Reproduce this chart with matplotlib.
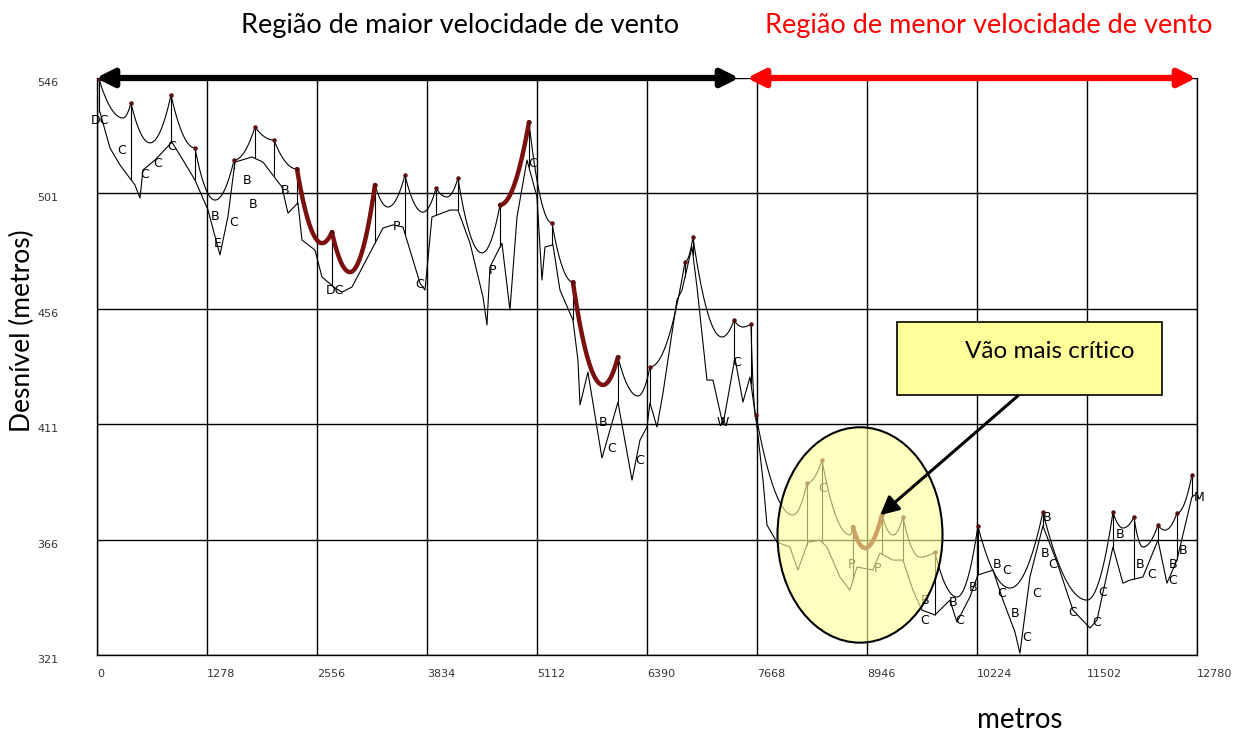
"""Perfil da linha: condutor (catenárias entre torres) e terreno."""
import matplotlib
matplotlib.use("Agg")
import matplotlib.pyplot as plt
import numpy as np
from matplotlib.patches import Ellipse, FancyArrowPatch, Rectangle

# Torres do condutor (distância em m, cota em m)
tower_x = [23, 395, 860, 1139, 1592, 1836, 2056, 2324, 2730, 3230, 3578, 3939,
           4194, 4682, 5019, 5286, 5530, 6053, 6425, 6831, 6924, 7401, 7598,
           7656, 8249, 8423, 8783, 9120, 9364, 9736, 10235, 10990, 11804,
           12048, 12327, 12547, 12721]
tower_y = [545.6, 536.3, 539.4, 518.7, 514.0, 526.9, 521.8, 510.5, 485.9, 504.3,
           508.2, 503.1, 507.0, 496.5, 528.8, 489.5, 466.4, 437.2, 433.3, 474.2,
           484.0, 451.6, 450.1, 414.6, 388.0, 397.0, 370.9, 375.6, 374.8, 361.1,
           371.3, 376.7, 376.7, 374.8, 371.7, 376.3, 391.2]
# ponto mais baixo de cada vão
low_x = [302, 616, 1139, 1371, 1592, 2056, 2324, 2614, 2939, 3381, 3787, 4066,
         4473, 4682, 5286, 5530, 5879, 6285, 6425, 6831, 7261, 7505, 7656, 8086,
         8249, 8748, 8923, 9248, 9562, 9991, 10607, 11502, 11920, 12152, 12408,
         12547]
low_y = [530.4, 520.7, 518.7, 498.4, 514.0, 521.8, 510.5, 481.6, 470.3, 495.7,
         493.7, 499.6, 477.8, 496.5, 489.5, 466.4, 426.3, 422.0, 433.3, 474.2,
         445.0, 448.9, 414.6, 375.6, 388.0, 367.8, 362.7, 367.8, 359.2, 343.6,
         347.1, 342.4, 370.5, 363.1, 369.7, 376.3]
red_spans = [7, 8, 13, 16, 26]

# Terreno / linha inferior
ground_x = [35, 151, 267, 441, 500, 534, 674, 871, 999, 1139, 1290, 1429, 1522,
            1603, 1801, 1929, 2149, 2219, 2335, 2382, 2533, 2614, 2765, 2846,
            2963, 3172, 3323, 3439, 3555, 3753, 3811, 3892, 4101, 4194, 4334,
            4485, 4531, 4566, 4705, 4798, 4880, 4996, 5112, 5170, 5205, 5298,
            5379, 5530, 5588, 5612, 5704, 5867, 6053, 6216, 6309, 6390, 6425,
            6506, 6576, 6738, 6797, 6913, 6971, 7087, 7157, 7273, 7412, 7505,
            7587, 7668, 7738, 7784, 7900, 8051, 8144, 8260, 8400, 8481, 8632,
            8748, 8830, 9016, 9097, 9248, 9364, 9480, 9585, 9736, 9910, 9991,
            10142, 10235, 10410, 10526, 10665, 10723, 10839, 10990, 11153,
            11339, 11537, 11618, 11804, 11920, 12001, 12152, 12327, 12431,
            12547, 12721, 12756]
ground_y = [532.7, 518.7, 512.1, 504.3, 499.2, 510.1, 514.0, 521.0, 514.0, 506.2,
            494.5, 477.0, 492.0, 513.2, 515.2, 513.2, 503.5, 493.3, 497.3, 482.8,
            478.9, 468.4, 464.1, 462.5, 464.5, 477.8, 487.5, 488.7, 487.9, 466.0,
            463.3, 491.8, 494.5, 494.5, 481.6, 460.6, 449.7, 472.3, 481.6, 455.5,
            491.8, 514.0, 499.6, 467.2, 480.1, 480.9, 463.3, 451.6, 436.0, 418.5,
            431.3, 397.8, 419.6, 389.2, 404.8, 409.9, 419.3, 409.9, 423.1, 459.4,
            463.3, 480.1, 464.5, 428.2, 428.2, 410.7, 436.8, 419.6, 429.4, 409.9,
            389.2, 371.7, 365.0, 363.1, 354.1, 365.0, 365.8, 363.1, 351.4, 346.3,
            355.3, 354.1, 360.7, 358.0, 358.0, 346.3, 338.5, 336.6, 342.4, 333.8,
            343.6, 352.2, 354.1, 342.4, 330.0, 321.7, 351.4, 371.3, 357.2, 338.5,
            331.5, 334.6, 363.1, 349.0, 350.2, 351.4, 365.8, 349.0, 358.0, 382.6,
            383.4]

# rótulos das estruturas (letras pequenas do perfil)
tag_x = [35, 290, 558, 709, 871, 1371, 1406, 1592, 1743, 1812, 2184, 2765, 3485,
         3753, 4601, 5066, 5879, 5983, 6309, 7273, 7436, 8435, 8772, 9074, 9620,
         9620, 9945, 10026, 10177, 10456, 10572, 10514, 10665, 10805, 11037,
         11014, 11107, 10921, 11339, 11618, 11688, 11885, 12117, 12257, 12501,
         12501, 12617, 12800]
tag_y = [529.3, 517.9, 508.2, 512.8, 519.1, 491.8, 481.6, 489.8, 506.2, 496.5,
         502.3, 463.3, 487.9, 465.3, 471.1, 512.8, 411.8, 401.7, 397.0, 411.8,
         434.9, 386.1, 356.1, 354.9, 342.4, 334.6, 341.6, 334.6, 347.5, 356.1,
         354.1, 345.1, 337.3, 328.0, 374.8, 360.7, 356.1, 345.1, 337.7, 333.8,
         345.5, 367.8, 356.1, 352.2, 356.1, 350.2, 361.9, 382.6]
tag_txt = ["DC", "C", "C", "C", "C", "B", "E", "C", "B", "B", "B", "DC", "P",
           "C", "P", "C", "B", "C", "C", "W", "C", "C", "P", "P", "B", "C", "B",
           "C", "B", "B", "C", "C", "B", "C", "B", "B", "C", "C", "C", "C", "C",
           "B", "B", "C", "B", "C", "B", "M"]

x_ticks = [0, 1278, 2556, 3834, 5112, 6390, 7668, 8946, 10224, 11502, 12780]
y_ticks = [321, 366, 411, 456, 501, 546]

TXT_FONT = ["Lato", "DejaVu Sans"]


def span_curve(i):
    xa, ya, xb, yb = tower_x[i], tower_y[i], tower_x[i + 1], tower_y[i + 1]
    xl, yl = low_x[i], low_y[i]
    xs, ys = [], []
    if xl > xa:
        x = np.linspace(xa, xl, 30)
        xs.append(x); ys.append(yl + (ya - yl) * ((x - xl) / (xa - xl)) ** 2)
    if xb > xl:
        x = np.linspace(xl, xb, 30)
        xs.append(x); ys.append(yl + (yb - yl) * ((x - xl) / (xb - xl)) ** 2)
    return np.concatenate(xs), np.concatenate(ys)


def main():
    fig = plt.figure(figsize=(12.4, 7.31), dpi=100)
    ax = fig.add_axes([0.0782, 0.104, 0.8871, 0.7893])
    ax.set_xlim(0, 12780)
    ax.set_ylim(321, 546)

    # grade
    for x in x_ticks:
        ax.axvline(x, color="black", lw=1.0, zorder=1)
    for y in y_ticks:
        ax.axhline(y, color="black", lw=1.0, zorder=1)
    for s in ax.spines.values():
        s.set_linewidth(1.0)
    ax.spines["top"].set_visible(False)

    ax.set_xticks(x_ticks)
    ax.set_yticks(y_ticks)
    ax.tick_params(length=0, labelsize=8, labelcolor="#333333")
    ax.set_xticklabels([str(v) for v in x_ticks], ha="left")
    ax.set_yticklabels([str(v) for v in y_ticks], va="top", ha="left")
    ax.tick_params(axis="y", pad=43)
    ax.tick_params(axis="x", pad=10)

    # terreno
    ax.plot(ground_x, ground_y, color="black", lw=0.8, zorder=3)

    # condutor
    for i in range(len(tower_x) - 1):
        x, y = span_curve(i)
        if i in red_spans:
            ax.plot(x, y, color="#7B1010", lw=3.2, zorder=4, solid_capstyle="round")
        else:
            ax.plot(x, y, color="black", lw=0.8, zorder=3)

    # estruturas
    base = np.interp(tower_x, ground_x, ground_y)
    ax.vlines(tower_x, base, tower_y, color="black", lw=0.8, zorder=3)
    ax.scatter(tower_x, tower_y, s=5, color="#5a1010", zorder=5)
    for x, y, t in zip(tag_x, tag_y, tag_txt):
        ax.text(x, y, t, fontsize=9, color="black", ha="center", va="center",
                family="DejaVu Sans", zorder=4, clip_on=False)

    # elipse do vão crítico
    ax.add_patch(Ellipse((8865, 367.8), 1917, 84, facecolor="#FFFF99",
                         alpha=0.62, edgecolor="none", zorder=6))
    ax.add_patch(Ellipse((8865, 367.8), 1917, 84, facecolor="none",
                         edgecolor="black", lw=1.5, zorder=7))

    # caixa + seta
    fig.patches.append(Rectangle((897 / 1240, 1 - 395 / 731), 265 / 1240, 73 / 731,
                                 transform=fig.transFigure, facecolor="#FFFF99",
                                 edgecolor="black", lw=1.2, zorder=8))
    fig.text(1050 / 1240, 1 - 352 / 731, "Vão mais crítico", ha="center", va="center",
             fontsize=17.5, family=TXT_FONT, zorder=9)
    ax.annotate("", xy=(9074, 374.8), xycoords="data",
                xytext=(1020 / 1240, 1 - 394 / 731), textcoords="figure fraction",
                arrowprops=dict(arrowstyle="-|>", color="black", lw=2.2,
                                mutation_scale=28), zorder=9)

    # setas das regiões
    fig.patches.append(FancyArrowPatch((93 / 1240, 0.8933), (742 / 1240, 0.8933),
                                       transform=fig.transFigure, arrowstyle="<|-|>",
                                       mutation_scale=26, lw=4.5, color="black"))
    fig.patches.append(FancyArrowPatch((744 / 1240, 0.8933), (1199 / 1240, 0.8933),
                                       transform=fig.transFigure, arrowstyle="<|-|>",
                                       mutation_scale=26, lw=4.5, color="#FF0000"))

    fig.text(460 / 1240, 1 - 26 / 731, "Região de maior velocidade de vento",
             ha="center", va="center", fontsize=19.5, family=TXT_FONT)
    fig.text(989 / 1240, 1 - 26 / 731, "Região de menor velocidade de vento",
             ha="center", va="center", fontsize=19.5, family=TXT_FONT, color="#FF0000")
    fig.text(22 / 1240, 1 - 331 / 731, "Desnível (metros)", rotation=90,
             ha="center", va="center", fontsize=19, family=TXT_FONT)
    fig.text(1020 / 1240, 1 - 720 / 731, "metros", ha="center", va="center",
             fontsize=20, family=TXT_FONT)

    fig.savefig("out.png", dpi=100)
    plt.close(fig)


if __name__ == "__main__":
    main()
